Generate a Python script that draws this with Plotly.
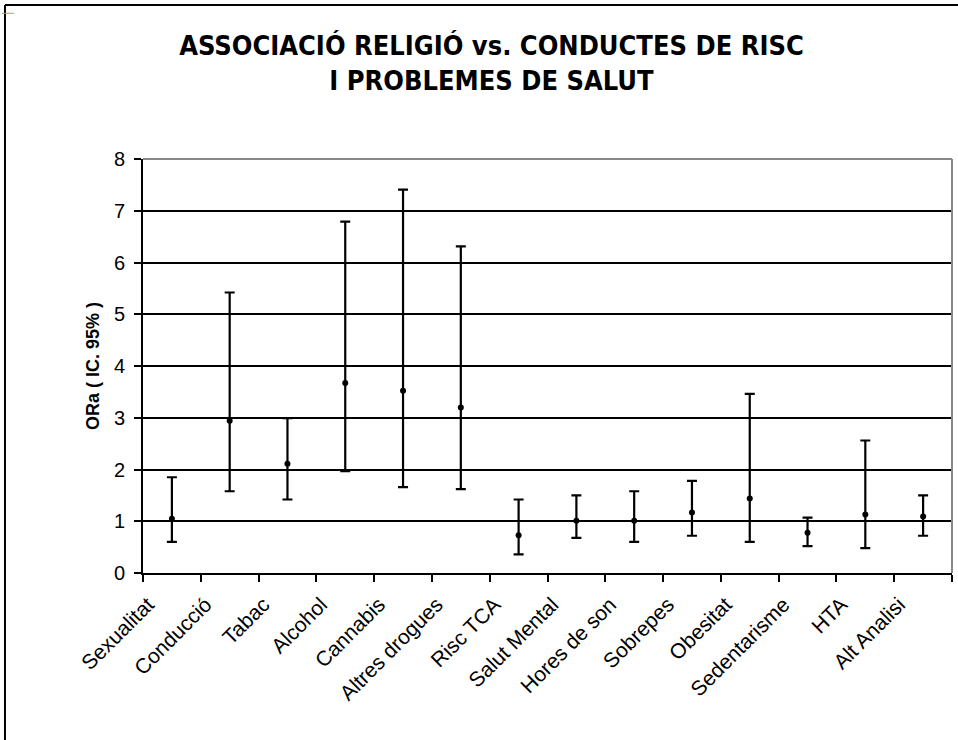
import plotly.graph_objects as go

categories = ["Sexualitat", "Conducció", "Tabac", "Alcohol", "Cannabis", "Altres drogues",
              "Risc TCA", "Salut Mental", "Hores de son", "Sobrepes", "Obesitat",
              "Sedentarisme", "HTA", "Alt Analisi"]
ora = [1.05, 2.94, 2.11, 3.67, 3.52, 3.20, 0.73, 1.01, 1.01, 1.17, 1.44, 0.78, 1.13, 1.09]
ci_high = [1.85, 5.42, 2.99, 6.79, 7.41, 6.31, 1.42, 1.50, 1.58, 1.78, 3.46, 1.07, 2.56, 1.50]
ci_low = [0.60, 1.58, 1.42, 1.97, 1.66, 1.62, 0.36, 0.68, 0.60, 0.72, 0.60, 0.52, 0.48, 0.72]
y_ticks = [0, 1, 2, 3, 4, 5, 6, 7, 8]

err_plus = [h - v for h, v in zip(ci_high, ora)]
err_minus = [v - l for v, l in zip(ora, ci_low)]

fig = go.Figure()
fig.add_trace(go.Scatter(
    x=categories, y=ora, mode="markers",
    marker=dict(color="black", size=6),
    error_y=dict(type="data", symmetric=False, array=err_plus, arrayminus=err_minus,
                 color="black", thickness=2.2, width=5),
    showlegend=False,
))

font_main = "Liberation Sans, Arial, sans-serif"

fig.update_layout(
    width=958, height=740,
    margin=dict(l=143, r=6, t=159, b=167),
    paper_bgcolor="white", plot_bgcolor="white",
    font=dict(family=font_main, color="black"),
    title=dict(
        text="<b>ASSOCIACIÓ RELIGIÓ vs. CONDUCTES DE RISC<br>I PROBLEMES DE SALUT</b>",
        x=0.513, xanchor="center", y=0.926, yanchor="middle",
        font=dict(family="DejaVu Sans Condensed, Liberation Sans Narrow, sans-serif",
                  size=27, color="black"),
    ),
    xaxis=dict(
        type="category", tickson="boundaries", ticks="outside", ticklen=7,
        tickwidth=2, tickcolor="black", showline=True, linecolor="black", linewidth=2,
        showgrid=False, tickangle=-45, tickfont=dict(size=21, family=font_main),
        ticklabelshift=-24, ticklabelstandoff=9,
        range=[-0.5, 13.5],
    ),
    yaxis=dict(
        range=[0, 8], tickvals=y_ticks, ticks="outside", ticklen=7, tickwidth=2,
        tickcolor="black", showline=True, linecolor="black", linewidth=2,
        showgrid=True, gridcolor="black", gridwidth=2, zeroline=False,
        tickfont=dict(size=20, family=font_main), ticklabelstandoff=5,
        title=dict(text="<b>ORa ( IC. 95% )</b>", font=dict(size=18, family=font_main), standoff=10),
    ),
    shapes=[
        dict(type="line", xref="paper", yref="paper", x0=0, x1=1, y0=1, y1=1,
             line=dict(color="#888888", width=2), layer="above"),
        dict(type="line", xref="paper", yref="paper", x0=1, x1=1, y0=0, y1=1,
             line=dict(color="#888888", width=2), layer="above"),
        dict(type="line", xref="paper", yref="paper", x0=-0.1706, x1=-0.1706, y0=-0.41, y1=1.372,
             line=dict(color="black", width=2), layer="above"),
        dict(type="line", xref="paper", yref="paper", x0=-0.1706, x1=1.01, y0=1.372, y1=1.372,
             line=dict(color="black", width=2), layer="above"),
        dict(type="line", xref="paper", yref="paper", x0=-0.1743, x1=-0.1595, y0=1.352, y1=1.352,
             line=dict(color="#f08070", width=1), layer="above"),
    ],
)

fig.write_html("out.html", config={"displayModeBar": False},
               post_script="document.body.style.margin='0px';")
